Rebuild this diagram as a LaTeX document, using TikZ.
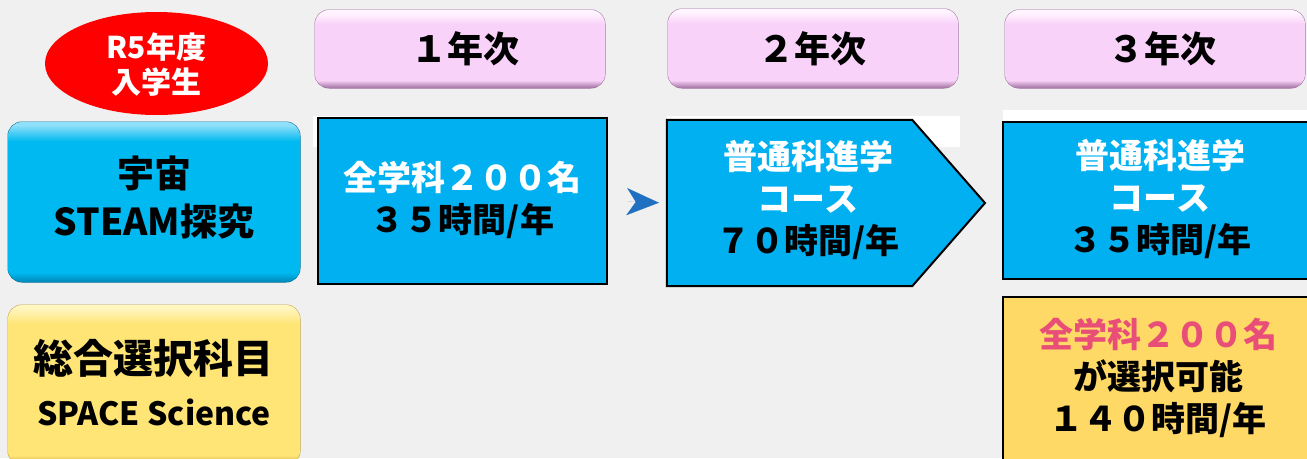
\documentclass[tikz,border=0pt]{standalone}
\usepackage{fontspec}
\setmainfont{Noto Sans CJK JP}
\usetikzlibrary{arrows.meta}
\definecolor{bg}{HTML}{F0F0F0}
\definecolor{cyanbox}{HTML}{00B0F0}
\definecolor{cyanlight}{HTML}{8FE0FA}
\definecolor{cyanbase}{HTML}{00B9F0}
\definecolor{cyandark}{HTML}{0088B8}
\definecolor{yellight}{HTML}{FFF6C0}
\definecolor{yelbase}{HTML}{FFE575}
\definecolor{yeldark}{HTML}{C0A040}
\definecolor{pinklight}{HTML}{FFF4FF}
\definecolor{pinkbase}{HTML}{F9D2F9}
\definecolor{pinkdark}{HTML}{A070A0}
\definecolor{yelbox}{HTML}{FFD966}
\definecolor{pinktext}{HTML}{E84E78}
\definecolor{arrowblue}{HTML}{1F70C0}
\definecolor{ellred}{HTML}{FF0000}
\pgfdeclareverticalshading{cyanbev}{100bp}{color(0bp)=(cyandark); color(25bp)=(cyandark); color(28bp)=(cyanbase); color(69bp)=(cyanbase); color(74bp)=(cyanlight); color(100bp)=(cyanlight)}
\pgfdeclareverticalshading{yelbev}{100bp}{color(0bp)=(yeldark); color(25bp)=(yeldark); color(28bp)=(yelbase); color(69bp)=(yelbase); color(74bp)=(yellight); color(100bp)=(yellight)}
\pgfdeclareverticalshading{pinkbev}{100bp}{color(0bp)=(pinkdark); color(25bp)=(pinkdark); color(30bp)=(pinkbase); color(66bp)=(pinkbase); color(73bp)=(pinklight); color(100bp)=(pinklight)}
\tikzset{
  bevel/.style={rounded corners=14pt, inner sep=0pt, align=center},
  cyanbevel/.style={bevel, shading=cyanbev, preaction={draw=cyandark!80!black, line width=1pt}},
  yelbevel/.style={bevel, shading=yelbev, preaction={draw=yeldark, line width=1pt}},
  pinkbevel/.style={bevel, shading=pinkbev, preaction={draw=pinkdark, line width=1pt}},
  plainbox/.style={draw=black, line width=2pt, inner sep=0pt},
  boxtext/.style={align=center, font=\bfseries\fontsize{34}{42}\selectfont, inner sep=0pt},
  headtext/.style={font=\bfseries\fontsize{36}{40}\selectfont},
}
\begin{document}
\begin{tikzpicture}[x=1pt,y=-1pt]
\fill[bg] (0,0) rectangle (1307,458);
\useasboundingbox (0,0) rectangle (1307,458);

% red ellipse
\fill[ellred] (156.5,63.5) ellipse [x radius=111.5, y radius=51.5];
\node[align=center, text=white, font=\bfseries\fontsize{30}{35}\selectfont, inner sep=0pt] (year) at (156.5,65) {R5年度\\入学生};

% left labels
\node[cyanbevel, minimum width=292pt, minimum height=160pt] (stem) at (154,202) {};
\node[align=center, font=\bfseries\fontsize{37}{48}\selectfont, inner sep=0pt] (stemt) at (154,198) {宇宙\\STEAM探究};
\node[yelbevel, minimum width=292pt, minimum height=160pt] (space) at (154,385) {};
\node[align=center, font=\bfseries\fontsize{40}{52}\selectfont, inner sep=0pt] (spacet) at (154,383) {総合選択科目\\{\fontsize{32}{52}\selectfont SPACE Science}};

% headers
\node[pinkbevel, minimum width=290pt, minimum height=78pt] (h1) at (460,49) {};
\node[headtext] at (465,49) {１年次};
\node[pinkbevel, minimum width=290pt, minimum height=79pt] (h2) at (813,48.5) {};
\node[headtext] at (812,49) {２年次};
\node[pinkbevel, minimum width=300pt, minimum height=78pt] (h3) at (1155,49) {};
\node[headtext] at (1162,49) {３年次};

% white strips
\fill[white] (313,116) rectangle (400,147);
\fill[white] (667,116) rectangle (960,147);
\fill[white] (1003,110) rectangle (1307,121);

% box 1
\node[plainbox, fill=cyanbox, minimum width=289pt, minimum height=166pt] (b1) at (462.5,201) {};
\node[boxtext] (b1t) at (462.5,200) {\textcolor{white}{全学科２００名}\\３５時間/年};

% box 2 (pentagon)
\node[minimum width=245pt, minimum height=166pt, inner sep=0pt] (b2) at (789.5,203) {};
\coordinate (tip) at (985,203);
\draw[line width=2pt, fill=cyanbox] (b2.north west) -- (b2.north east) -- (tip) -- (b2.south east) -- (b2.south west) -- cycle;
\node[boxtext] (b2t) at (808,200) {\textcolor{white}{普通科進学}\\\textcolor{white}{コース}\\７０時間/年};

% arrow between box1 and box2
\draw[arrowblue, line width=0.01pt, shorten <=20pt, shorten >=8pt,
  -{Stealth[length=32pt, width=27pt, inset=9pt]}] (b1.east) -- (b2.west);

% box 3
\node[plainbox, fill=cyanbox, minimum width=314pt, minimum height=157pt] (b3) at (1160,200.5) {};
\node[boxtext] (b3t) at (1160,199) {\textcolor{white}{普通科進学}\\\textcolor{white}{コース}\\３５時間/年};

% box 4
\node[plainbox, fill=yelbox, minimum width=314pt, minimum height=180pt] (b4) at (1160,387) {};
\node[boxtext] (b4t) at (1158,378) {\textcolor{pinktext}{全学科２００名}\\が選択可能\\１４０時間/年};
\end{tikzpicture}
\end{document}
